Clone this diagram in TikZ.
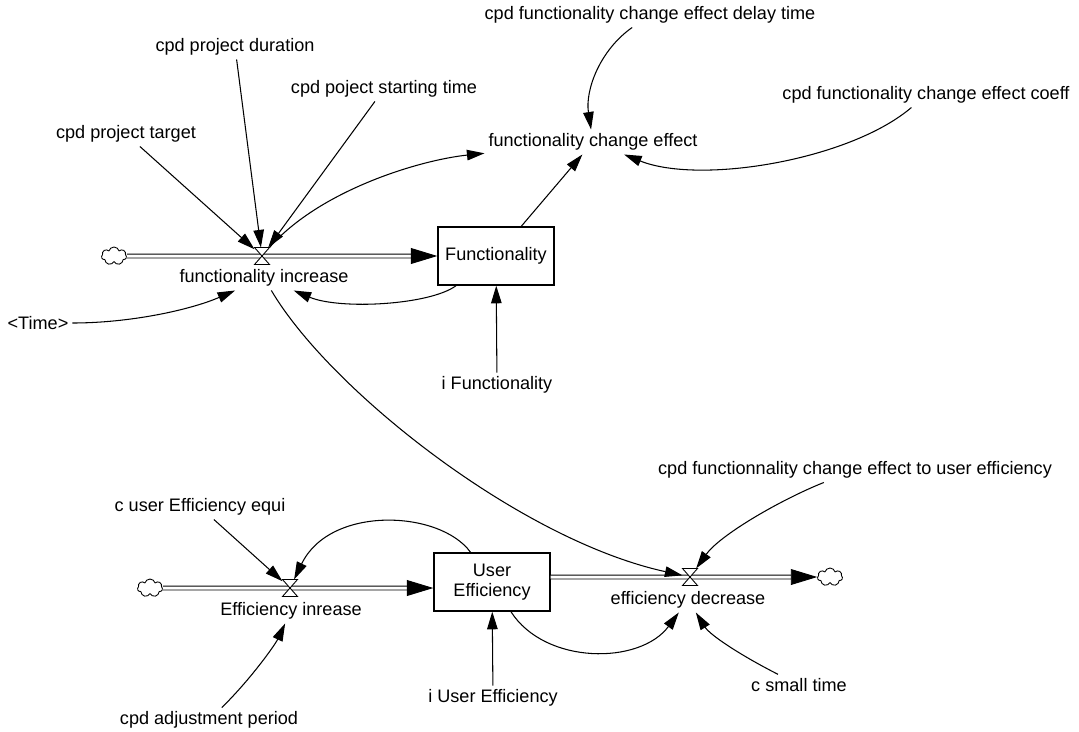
\documentclass[tikz,border=0pt]{standalone}
\usepackage{fontspec}
\setmainfont{Liberation Sans}
\usetikzlibrary{arrows.meta,shapes.symbols}

\begin{document}
\begin{tikzpicture}[x=0.02cm, y=-0.02cm, line width=0.6pt,
	every node/.style={font=\fontsize{10.3}{11.5}\selectfont, inner sep=2pt},
	>={Triangle[length=10pt,width=6pt]},
	pipe/.style={double, line width=0.5pt, double distance=1.7pt, -{Triangle[length=15pt,width=9pt]}},
	stock/.style={draw, line width=0.8pt, minimum width=2.32cm, minimum height=1.16cm, align=center},
	valve/.style={minimum width=0.28cm, minimum height=0.32cm, inner sep=0pt},
	src/.style={cloud, draw, cloud puffs=7, aspect=1.4, minimum width=0.5cm, minimum height=0.36cm, inner sep=0pt, line width=0.5pt}]
	\useasboundingbox (0,0) rectangle (1079,731);
	% functionality
	\node[src] (cl1) at (114,256) {};
	\node[stock] (func) at (496,256) {Functionality};
	\node[valve] (v1) at (262,256) {};
	\node (finc) at (264,278) {functionality increase};
	\node (fce) at (593,142) {functionality change effect};
	\node (fdelay) at (650,15) {cpd functionality change effect delay time};
	\node (fcoeff) at (926,95) {cpd functionality change effect coeff};
	\node (ptarget) at (126,134) {cpd project target};
	\node (pdur) at (235,47) {cpd project duration};
	\node (pstart) at (384,89) {cpd poject starting time};
	\node (time) at (38,323) {\textless Time\textgreater};
	\node (ifunc) at (497,385) {i Functionality};
	% user efficiency
	\node[src] (cl2) at (150,588) {};
	\node[stock] (ue) at (492,582) {User\\Efficiency};
	\node[valve] (v2) at (290,588) {};
	\node (einc) at (291,611) {Efficiency inrease};
	\node[valve] (v3) at (690,577) {};
	\node (edec) at (688,600) {efficiency decrease};
	\node[src] (cl3) at (830,577) {};
	\node (cue) at (200,507) {c user Efficiency equi};
	\node (cadj) at (209,720) {cpd adjustment period};
	\node (iue) at (493,698) {i User Efficiency};
	\node (csmall) at (799,685) {c small time};
	\node (cfce) at (855,470) {cpd functionnality change effect to user efficiency};
	% flows
	\draw[pipe] (cl1) -- (func);
	\draw[pipe] (cl2) -- (cl2 -| ue.west);
	\draw[pipe] (v3 -| ue.east) -- (cl3);
	\foreach \v in {v1,v2,v3}
		\draw[line width=0.5pt, fill=white] (\v.north west) -- (\v.north east) -- (\v.south west) -- (\v.south east) -- cycle;
	% links
	\draw (v1) edge[<-] (ptarget);
	\draw (v1) edge[<-] (pdur);
	\draw (v1) edge[<-] (pstart);
	\draw[->] (v1) .. controls (320,190) and (420,160) .. (fce);
	\draw (fce) edge[<-] (func);
	\draw[->] (fdelay) .. controls (600,50) and (585,90) .. (fce);
	\draw[->] (fcoeff) .. controls (850,160) and (700,185) .. (fce);
	\draw[->] (func) .. controls (430,305) and (340,310) .. (finc);
	\draw[->] (time) .. controls (130,323) and (190,310) .. (finc);
	\draw (func) edge[<-] (ifunc);
	\draw[->] (finc) .. controls (330,390) and (520,540) .. (v3);
	\draw[->] (cfce) .. controls (780,500) and (720,535) .. (v3);
	\draw[->] (ue) .. controls (545,665) and (640,665) .. (edec);
	\draw[->] (csmall) .. controls (740,655) and (710,635) .. (edec);
	\draw[->] (ue) .. controls (440,510) and (330,505) .. (v2);
	\draw (v2) edge[<-] (cue);
	\draw[->] (cadj) .. controls (250,680) and (275,645) .. (einc);
	\draw (ue) edge[<-] (iue);
\end{tikzpicture}
\end{document}
